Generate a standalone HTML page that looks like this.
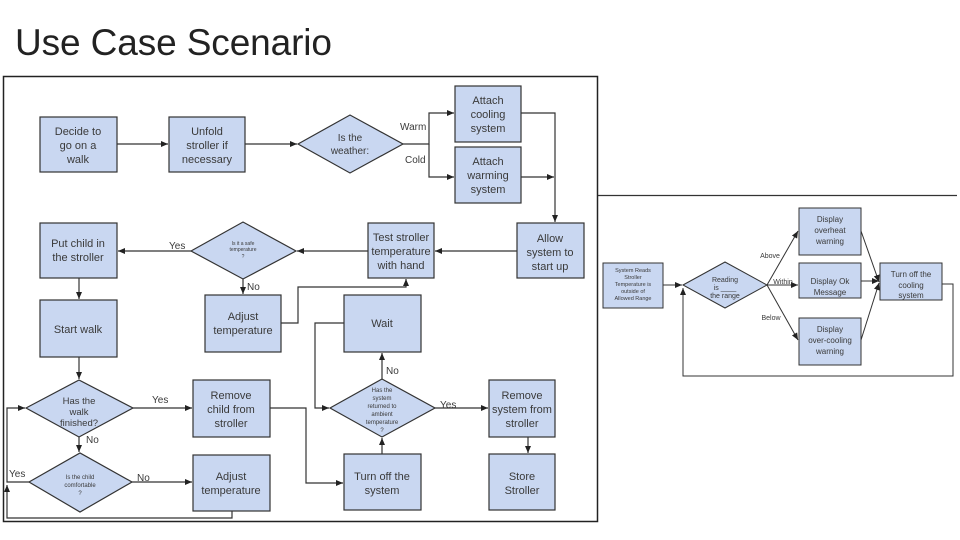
<!DOCTYPE html>
<html><head><meta charset="utf-8"><style>
html,body{margin:0;padding:0;background:#fff;width:960px;height:540px;overflow:hidden}
svg{display:block}
text{font-family:"Liberation Sans",Arial,sans-serif;fill:#3a3a3a}
</style></head><body>
<svg width="960" height="540" viewBox="0 0 960 540" xmlns="http://www.w3.org/2000/svg">
<defs>
<marker id="a" markerWidth="8" markerHeight="8" refX="7" refY="4" orient="auto" markerUnits="userSpaceOnUse">
<path d="M0,1 L7,4 L0,7 Z" fill="#222"/></marker>
</defs>
<text x="15" y="55" font-size="37" textLength="317" lengthAdjust="spacing" style="fill:#222">Use Case Scenario</text>

<rect x="3.5" y="76.5" width="594" height="445" fill="#fff" stroke="#222" stroke-width="1.5"/>

<g fill="#c9d7f1" stroke="#333" stroke-width="1.2">
<rect x="40" y="117" width="77" height="55"/>
<rect x="169" y="117" width="76" height="55"/>
<polygon points="298,144 350,115 403,144 350,173"/>
<rect x="455" y="86" width="66" height="56"/>
<rect x="455" y="147" width="66" height="56"/>
<rect x="517" y="223" width="67" height="55"/>
<rect x="368" y="223" width="66" height="55"/>
<polygon points="191,251 243,222 296,251 243,279"/>
<rect x="40" y="223" width="77" height="55"/>
<rect x="205" y="295" width="76" height="57"/>
<rect x="344" y="295" width="77" height="57"/>
<rect x="40" y="300" width="77" height="57"/>
<polygon points="26,408 79,380 133,408 79,437"/>
<rect x="193" y="380" width="77" height="57"/>
<polygon points="330,408 382,379 435,408 382,437"/>
<rect x="489" y="380" width="66" height="57"/>
<polygon points="29,482 80,453 132,482 80,512"/>
<rect x="193" y="455" width="77" height="56"/>
<rect x="344" y="454" width="77" height="56"/>
<rect x="489" y="454" width="66" height="56"/>
</g>

<g stroke="#333" stroke-width="1.2" fill="none">
<line x1="117" y1="144" x2="168" y2="144" marker-end="url(#a)"/>
<line x1="245" y1="144" x2="297" y2="144" marker-end="url(#a)"/>
<polyline points="403,144 429,144 429,113 454,113" marker-end="url(#a)"/>
<polyline points="429,144 429,177 454,177" marker-end="url(#a)"/>
<polyline points="521,113 555,113 555,222" marker-end="url(#a)"/>
<line x1="521" y1="177" x2="554" y2="177" marker-end="url(#a)"/>
<line x1="517" y1="251" x2="435" y2="251" marker-end="url(#a)"/>
<line x1="368" y1="251" x2="297" y2="251" marker-end="url(#a)"/>
<line x1="191" y1="251" x2="118" y2="251" marker-end="url(#a)"/>
<line x1="243" y1="279" x2="243" y2="294" marker-end="url(#a)"/>
<polyline points="281,323 298,323 298,287 406,287 406,279" marker-end="url(#a)"/>
<line x1="79" y1="278" x2="79" y2="299" marker-end="url(#a)"/>
<line x1="79" y1="357" x2="79" y2="379" marker-end="url(#a)"/>
<line x1="133" y1="408" x2="192" y2="408" marker-end="url(#a)"/>
<line x1="79" y1="437" x2="79" y2="452" marker-end="url(#a)"/>
<line x1="132" y1="482" x2="192" y2="482" marker-end="url(#a)"/>
<polyline points="29,482 7,482 7,408 25,408" marker-end="url(#a)"/>
<polyline points="232,511 232,518 7,518 7,485" marker-end="url(#a)"/>
<polyline points="270,408 306,408 306,483 343,483" marker-end="url(#a)"/>
<line x1="382" y1="454" x2="382" y2="438" marker-end="url(#a)"/>
<line x1="382" y1="379" x2="382" y2="353" marker-end="url(#a)"/>
<polyline points="344,323 315,323 315,408 329,408" marker-end="url(#a)"/>
<line x1="435" y1="408" x2="488" y2="408" marker-end="url(#a)"/>
<line x1="528" y1="437" x2="528" y2="453" marker-end="url(#a)"/>
</g>

<g font-size="11" text-anchor="middle">
<text x="78" y="135">Decide to</text><text x="78" y="149">go on a</text><text x="78" y="163">walk</text>
<text x="207" y="135">Unfold</text><text x="207" y="149">stroller if</text><text x="207" y="163">necessary</text>
<text x="350" y="141" font-size="10">Is the</text><text x="350" y="154" font-size="10">weather:</text>
<text x="488" y="104">Attach</text><text x="488" y="118">cooling</text><text x="488" y="132">system</text>
<text x="488" y="165">Attach</text><text x="488" y="179">warming</text><text x="488" y="193">system</text>
<text x="550" y="242">Allow</text><text x="550" y="256">system to</text><text x="550" y="270">start up</text>
<text x="401" y="241">Test stroller</text><text x="401" y="255">temperature</text><text x="401" y="269">with hand</text>
<text x="243" y="245" font-size="5">Is it a safe</text><text x="243" y="251" font-size="5">temperature</text><text x="243" y="258" font-size="5">?</text>
<text x="78" y="247">Put child in</text><text x="78" y="261">the stroller</text>
<text x="243" y="320">Adjust</text><text x="243" y="334">temperature</text>
<text x="382" y="327">Wait</text>
<text x="78" y="333">Start walk</text>
<text x="79" y="404" font-size="9.5">Has the</text><text x="79" y="415" font-size="9.5">walk</text><text x="79" y="426" font-size="9.5">finished?</text>
<text x="231" y="399">Remove</text><text x="231" y="413">child from</text><text x="231" y="427">stroller</text>
<text x="382" y="392" font-size="6">Has the</text><text x="382" y="400" font-size="6">system</text><text x="382" y="408" font-size="6">returned to</text><text x="382" y="416" font-size="6">ambient</text><text x="382" y="424" font-size="6">temperature</text><text x="382" y="432" font-size="6">?</text>
<text x="522" y="399">Remove</text><text x="522" y="413">system from</text><text x="522" y="427">stroller</text>
<text x="80" y="479" font-size="6">Is the child</text><text x="80" y="487" font-size="6">comfortable</text><text x="80" y="495" font-size="6">?</text>
<text x="231" y="480">Adjust</text><text x="231" y="494">temperature</text>
<text x="382" y="480">Turn off the</text><text x="382" y="494">system</text>
<text x="522" y="480">Store</text><text x="522" y="494">Stroller</text>
</g>
<g font-size="10">
<text x="400" y="130">Warm</text><text x="405" y="163">Cold</text>
<text x="169" y="249">Yes</text><text x="247" y="290">No</text>
<text x="152" y="403">Yes</text><text x="86" y="443">No</text>
<text x="137" y="481">No</text><text x="9" y="477">Yes</text>
<text x="386" y="374">No</text><text x="440" y="408">Yes</text>
</g>

<line x1="598" y1="195.5" x2="957" y2="195.5" stroke="#333" stroke-width="1.2"/>
<g fill="#c9d7f1" stroke="#333" stroke-width="1">
<rect x="603" y="263" width="60" height="45"/>
<polygon points="683,285 725,262 767,285 725,308"/>
<rect x="799" y="208" width="62" height="47"/>
<rect x="799" y="263" width="62" height="35"/>
<rect x="799" y="318" width="62" height="47"/>
<rect x="880" y="263" width="62" height="37"/>
</g>
<g stroke="#333" stroke-width="1" fill="none">
<line x1="663" y1="285" x2="682" y2="285" marker-end="url(#a)"/>
<line x1="767" y1="285" x2="798" y2="231" marker-end="url(#a)"/>
<line x1="767" y1="285" x2="798" y2="285" marker-end="url(#a)"/>
<line x1="767" y1="285" x2="798" y2="340" marker-end="url(#a)"/>
<line x1="861" y1="231" x2="879" y2="282" marker-end="url(#a)"/>
<line x1="861" y1="281" x2="879" y2="281" marker-end="url(#a)"/>
<line x1="861" y1="340" x2="879" y2="283" marker-end="url(#a)"/>
<polyline points="942,284 953,284 953,376 683,376 683,288" marker-end="url(#a)"/>
</g>
<g font-size="7" text-anchor="middle">
<text x="633" y="272" font-size="5.5">System Reads</text><text x="633" y="279" font-size="5.5">Stroller</text><text x="633" y="286" font-size="5.5">Temperature is</text><text x="633" y="293" font-size="5.5">outside of</text><text x="633" y="300" font-size="5.5">Allowed Range</text>
<text x="725" y="282">Reading</text><text x="725" y="290">is ____</text><text x="725" y="298">the range</text>
<text x="830" y="222" font-size="8">Display</text><text x="830" y="233" font-size="8">overheat</text><text x="830" y="244" font-size="8">warning</text>
<text x="830" y="284" font-size="8">Display Ok</text><text x="830" y="295" font-size="8">Message</text>
<text x="830" y="332" font-size="8">Display</text><text x="830" y="343" font-size="8">over-cooling</text><text x="830" y="354" font-size="8">warning</text>
<text x="911" y="277" font-size="8">Turn off the</text><text x="911" y="288" font-size="8">cooling</text><text x="911" y="298" font-size="8">system</text>
<text x="770" y="258">Above</text><text x="783" y="284">Within</text><text x="771" y="320">Below</text>
</g>
</svg>
</body></html>
